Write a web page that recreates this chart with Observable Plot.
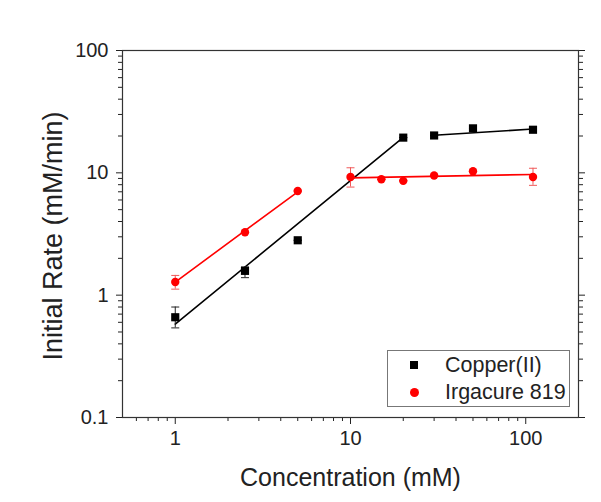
<!DOCTYPE html>
<html><head><meta charset="utf-8">
<script src="https://cdn.jsdelivr.net/npm/d3@7"></script>
<script src="https://cdn.jsdelivr.net/npm/@observablehq/plot@0.6"></script>
<style>
body{margin:0;background:#fff;}
#wrap{position:relative;width:601px;height:502px;font-family:Arial,"Liberation Sans",sans-serif;color:#222;}
#legend{position:absolute;left:387px;top:350px;width:181px;height:55px;border:1px solid #777;background:#fff;}
.li{position:absolute;left:57px;font-size:21.5px;line-height:22px;}
.sw{position:absolute;left:22px;width:8px;height:8px;}
</style>
</head><body><div id="wrap"></div>
<script>
// Copper(II)
const copperConc = [1, 2.5, 5, 20, 30, 50, 110];
const copperRate = [0.66, 1.58, 2.81, 19.4, 20.2, 23.1, 22.5];
const copperLow  = [0.54, 1.39, 2.81, 19.4, 20.2, 23.1, 21.9];
const copperHigh = [0.80, 1.70, 2.81, 19.4, 20.2, 23.1, 23.3];
// Irgacure 819
const irgConc = [1, 2.5, 5, 10, 15, 20, 30, 50, 110];
const irgRate = [1.28, 3.27, 7.1, 9.25, 8.85, 8.6, 9.5, 10.3, 9.25];
const irgLow  = [1.12, 3.27, 7.1, 7.65, 8.85, 8.6, 9.5, 10.3, 7.9];
const irgHigh = [1.45, 3.27, 7.1, 11.0, 8.85, 8.6, 9.5, 10.3, 10.9];
// fitted lines
const copperFit1Conc = [1, 20], copperFit1Rate = [0.58, 19.5];
const copperFit2Conc = [30, 110], copperFit2Rate = [20.3, 22.8];
const irgFit1Conc = [1, 5], irgFit1Rate = [1.28, 7.0];
const irgFit2Conc = [10, 110], irgFit2Rate = [9.1, 9.7];
// ticks
const xMajor = [1, 10, 100];
const xMinor = [0.6, 0.7, 0.8, 0.9, 2, 3, 4, 5, 6, 7, 8, 9, 20, 30, 40, 50, 60, 70, 80, 90];
const yMajor = [0.1, 1, 10, 100];
const yMinor = [0.2, 0.3, 0.4, 0.5, 0.6, 0.7, 0.8, 0.9, 2, 3, 4, 5, 6, 7, 8, 9, 20, 30, 40, 50, 60, 70, 80, 90];
const seriesNames = ["Copper(II)", "Irgacure 819"];
const seriesColors = ["#000000", "#ff0000"];

const pts = (xs, ys, lo, hi) => xs.map((x, i) => ({x, y: ys[i], lo: lo ? lo[i] : null, hi: hi ? hi[i] : null}));
const copper = pts(copperConc, copperRate, copperLow, copperHigh);
const irg = pts(irgConc, irgRate, irgLow, irgHigh);
const fit = (xs, ys) => xs.map((x, i) => ({x, y: ys[i]}));
const cap = {draw(ctx) { ctx.moveTo(-4, 0); ctx.lineTo(4, 0); }};
const blank = () => "";

const chart = Plot.plot({
  width: 601, height: 502,
  marginLeft: 122, marginRight: 23, marginTop: 50, marginBottom: 85,
  style: {fontFamily: "Arial, 'Liberation Sans', sans-serif", fontSize: "20px", color: "#222", background: "#fff"},
  x: {type: "log", domain: [0.5, 200]},
  y: {type: "log", domain: [0.1, 100]},
  marks: [
    Plot.axisX(xMinor, {tickSize: 4, tickFormat: blank, label: null}),
    Plot.axisX(xMajor, {tickSize: 7, tickPadding: 6, tickFormat: d => String(d), label: null, fontSize: 20}),
    Plot.axisY(yMinor, {tickSize: 4, tickFormat: blank, label: null}),
    Plot.axisY(yMajor, {tickSize: 6, tickPadding: 8, tickFormat: d => String(d), label: null, fontSize: 20}),
    Plot.axisY(yMinor, {anchor: "right", tickSize: 4, tickFormat: blank, label: null}),
    Plot.axisY(yMajor, {anchor: "right", tickSize: 6, tickFormat: blank, label: null}),
    Plot.frame({stroke: "#333", strokeWidth: 1.2}),
    // fits
    Plot.line(fit(copperFit1Conc, copperFit1Rate), {x: "x", y: "y", stroke: seriesColors[0], strokeWidth: 1.6}),
    Plot.line(fit(copperFit2Conc, copperFit2Rate), {x: "x", y: "y", stroke: seriesColors[0], strokeWidth: 1.6}),
    Plot.line(fit(irgFit1Conc, irgFit1Rate), {x: "x", y: "y", stroke: seriesColors[1], strokeWidth: 1.6}),
    Plot.line(fit(irgFit2Conc, irgFit2Rate), {x: "x", y: "y", stroke: seriesColors[1], strokeWidth: 1.6}),
    // error bars
    Plot.ruleX(copper, {x: "x", y1: "lo", y2: "hi", stroke: "#222", strokeWidth: 1}),
    Plot.dot(copper, {x: "x", y: "lo", symbol: cap, stroke: "#222", strokeWidth: 1, fill: "none"}),
    Plot.dot(copper, {x: "x", y: "hi", symbol: cap, stroke: "#222", strokeWidth: 1, fill: "none"}),
    Plot.ruleX(irg, {x: "x", y1: "lo", y2: "hi", stroke: "#f05a5a", strokeWidth: 1}),
    Plot.dot(irg, {x: "x", y: "lo", symbol: cap, stroke: "#f05a5a", strokeWidth: 1, fill: "none"}),
    Plot.dot(irg, {x: "x", y: "hi", symbol: cap, stroke: "#f05a5a", strokeWidth: 1, fill: "none"}),
    // points
    Plot.dot(copper, {x: "x", y: "y", symbol: "square", r: 4.6, fill: seriesColors[0], stroke: "none"}),
    Plot.dot(irg, {x: "x", y: "y", symbol: "circle", r: 4.2, fill: seriesColors[1], stroke: "none"}),
    // axis titles
    Plot.text(["Concentration (mM)"], {frameAnchor: "bottom", dy: 60, fontSize: 25, textAnchor: "middle", lineAnchor: "middle", fill: "#222"}),
    Plot.text(["Initial Rate (mM/min)"], {frameAnchor: "left", dx: -69, dy: 2, rotate: -90, fontSize: 27, textAnchor: "middle", lineAnchor: "middle", fill: "#222"})
  ]
});
const wrap = document.getElementById("wrap");
wrap.appendChild(chart);
const legend = document.createElement("div");
legend.id = "legend";
seriesNames.forEach((name, i) => {
  const cy = 14 + i * 27;
  const sw = document.createElement("div");
  sw.className = "sw";
  sw.style.top = (cy - 4) + "px";
  sw.style.background = seriesColors[i];
  if (i === 1) { sw.style.borderRadius = "50%"; sw.style.width = "9px"; sw.style.height = "9px"; }
  legend.appendChild(sw);
  const t = document.createElement("div");
  t.className = "li";
  t.style.top = (cy - 11) + "px";
  t.textContent = name;
  legend.appendChild(t);
});
wrap.appendChild(legend);
</script>
</body></html>
